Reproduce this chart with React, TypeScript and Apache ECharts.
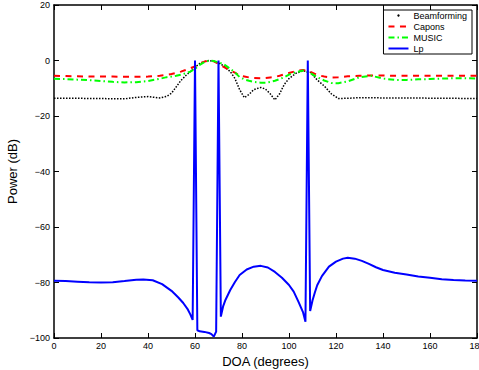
import React, { useEffect, useRef } from "react";
import * as echarts from "echarts";

// ---- data ----
const doaTop = [0, 5, 10, 15, 20, 25, 30, 35, 40, 45, 48, 50, 52, 54, 56, 58, 60, 62, 64, 66, 68, 70, 72, 75, 77, 79, 81, 83, 85, 88, 90, 92, 94, 96, 98, 100, 103, 106, 109, 112, 115, 118, 121, 125, 130, 135, 140, 145, 150, 155, 160, 165, 170, 175, 180];

const beamforming = [-13.6, -13.6, -13.6, -13.7, -13.7, -13.8, -13.8, -13.3, -13.0, -13.5, -12.9, -11.8, -9.5, -7.2, -5.5, -4.0, -2.4, -1.1, -0.4, 0, -0.3, -0.9, -1.8, -4.0, -6.5, -10.5, -13.4, -12.2, -10.5, -9.7, -10.3, -12.0, -14.2, -12.0, -8.6, -6.5, -4.6, -3.7, -4.2, -7.0, -9.2, -12.0, -13.7, -13.6, -13.4, -13.4, -13.5, -13.5, -13.5, -13.5, -13.6, -13.6, -13.6, -13.7, -13.7];

const capons = [-5.5, -5.6, -5.7, -5.8, -5.8, -5.8, -5.9, -5.9, -5.8, -5.5, -5.2, -4.9, -4.5, -4.0, -3.4, -2.8, -2.1, -1.1, -0.4, 0, -0.3, -1.2, -2.2, -3.6, -4.4, -5.5, -5.8, -6.1, -6.3, -6.4, -6.3, -6.1, -5.9, -5.5, -5.0, -4.5, -3.8, -3.4, -4.0, -5.2, -5.8, -6.1, -6.0, -5.7, -5.5, -5.4, -5.4, -5.5, -5.5, -5.5, -5.5, -5.5, -5.5, -5.5, -5.5];

const music = [-6.6, -6.7, -6.9, -7.1, -7.4, -7.7, -7.9, -7.8, -7.4, -6.6, -6.0, -5.8, -5.5, -5.1, -4.6, -4.0, -3.0, -1.6, -0.6, 0, -0.2, -0.7, -1.2, -3.0, -4.3, -6.0, -6.8, -7.3, -7.7, -8.0, -8.0, -7.7, -7.3, -6.7, -6.0, -5.1, -4.2, -3.6, -4.5, -6.0, -7.2, -8.1, -8.2, -7.5, -6.0, -5.5, -6.5, -7.0, -7.0, -6.8, -6.7, -6.5, -6.4, -6.4, -6.5];

const doaLp = [0, 5, 10, 15, 20, 25, 30, 35, 38, 42, 46, 50, 53, 55, 57, 58, 59, 60, 61, 62, 64, 66, 67, 68, 69, 70, 71, 72, 73, 75, 77, 79, 82, 85, 88, 91, 94, 97, 100, 102, 104, 106, 107, 108, 109, 110, 111, 112, 114, 117, 120, 123, 125, 128, 131, 134, 137, 140, 145, 150, 155, 160, 165, 170, 175, 180];

const lp = [-79.4, -79.5, -79.7, -79.9, -80.0, -79.9, -79.5, -79.0, -78.9, -79.2, -80.6, -83.0, -85.5, -87.4, -89.8, -91.5, -93.5, 0, -97.2, -97.6, -97.8, -98.2, -98.6, -99.5, -97.7, 0, -92.3, -88.5, -86.2, -82.7, -79.8, -77.3, -75.3, -74.3, -74.0, -74.6, -76.2, -78.3, -80.9, -83.3, -86.9, -90.8, -94.1, 0, -90.3, -86.5, -83.6, -81.0, -77.7, -74.3, -72.5, -71.4, -71.1, -71.4, -72.2, -73.3, -74.5, -75.5, -76.5, -77.1, -77.8, -78.3, -78.8, -79.1, -79.3, -79.4];

const seriesNames = ["Beamforming", "Capons", "MUSIC", "Lp"];
const xTitle = "DOA (degrees)";
const yTitle = "Power (dB)";

const FONT = "'Liberation Sans', Arial, Helvetica, sans-serif";

const zip = (xs: number[], ys: number[]) => xs.map((x, i) => [x, ys[i]]);

export default function App() {
  const ref = useRef<HTMLDivElement>(null);
  useEffect(() => {
    document.body.style.margin = "0";
    const chart = echarts.init(ref.current!, undefined, { renderer: "svg" });
    const axisLine = { show: true, onZero: false, lineStyle: { color: "#000", width: 1.5 } };
    const tickIn = { show: true, inside: true, length: 5, lineStyle: { color: "#000", width: 1 } };
    const fmtY = (v: number) => (v < 0 ? "\u2212" + -v : String(v));
    chart.setOption({
      animation: false,
      backgroundColor: "#fff",
      grid: { left: 54, top: 5, right: 2, bottom: 32, containLabel: false, outerBoundsMode: "none" },
      legend: {
        right: 7,
        top: 10,
        orient: "vertical",
        backgroundColor: "#fff",
        borderColor: "#000",
        borderWidth: 1,
        borderRadius: 0,
        padding: [0, 5, 0, 4],
        itemGap: 0,
        itemWidth: 20,
        itemHeight: 3,
        textStyle: { fontFamily: FONT, fontSize: 9, color: "#000", lineHeight: 11, padding: [0, 0, 0, 0] },
        data: [
          { name: seriesNames[0], itemStyle: { color: "#000", opacity: 1 }, lineStyle: { opacity: 0 } },
          { name: seriesNames[1], itemStyle: { opacity: 0 } },
          { name: seriesNames[2], itemStyle: { opacity: 0 } },
          { name: seriesNames[3], itemStyle: { opacity: 0 } },
        ],
      },
      xAxis: [
        {
          type: "value",
          min: 0,
          max: 180,
          interval: 20,
          position: "bottom",
          axisLine,
          axisTick: tickIn,
          splitLine: { show: false },
          axisLabel: { fontFamily: FONT, fontSize: 9, color: "#000", margin: 3 },
          name: xTitle,
          nameLocation: "middle",
          nameGap: 12,
          nameTextStyle: { fontFamily: FONT, fontSize: 13, color: "#000" },
        },
        {
          type: "value",
          min: 0,
          max: 180,
          interval: 20,
          position: "top",
          axisLine,
          axisTick: tickIn,
          splitLine: { show: false },
          axisLabel: { show: false },
        },
      ],
      yAxis: [
        {
          type: "value",
          min: -100,
          max: 20,
          interval: 20,
          position: "left",
          axisLine,
          axisTick: tickIn,
          splitLine: { show: false },
          axisLabel: { fontFamily: FONT, fontSize: 9, color: "#000", margin: 4, formatter: fmtY },
          name: yTitle,
          nameLocation: "middle",
          nameGap: 25,
          nameTextStyle: { fontFamily: FONT, fontSize: 13, color: "#000" },
        },
        {
          type: "value",
          min: -100,
          max: 20,
          interval: 20,
          position: "right",
          axisLine,
          axisTick: tickIn,
          splitLine: { show: false },
          axisLabel: { show: false },
        },
      ],
      series: [
        {
          name: seriesNames[0],
          type: "line",
          data: zip(doaTop, beamforming),
          symbol: "none",
          color: "#000",
          lineStyle: { color: "#000", width: 1.5, type: [1.5, 1.5] },
          z: 3,
        },
        {
          name: seriesNames[1],
          type: "line",
          data: zip(doaTop, capons),
          symbol: "none",
          color: "#ff0000",
          lineStyle: { color: "#ff0000", width: 2, type: [6, 5.5] },
          z: 4,
        },
        {
          name: seriesNames[2],
          type: "line",
          data: zip(doaTop, music),
          symbol: "none",
          color: "#00ff00",
          lineStyle: { color: "#00ff00", width: 2, type: [6, 3, 1.5, 3] },
          z: 5,
        },
        {
          name: seriesNames[3],
          type: "line",
          data: zip(doaLp, lp),
          symbol: "none",
          color: "#0000ff",
          lineStyle: { color: "#0000ff", width: 2 },
          z: 6,
        },
      ],
    });
    return () => chart.dispose();
  }, []);
  return <div ref={ref} style={{ width: 479, height: 370 }} />;
}
